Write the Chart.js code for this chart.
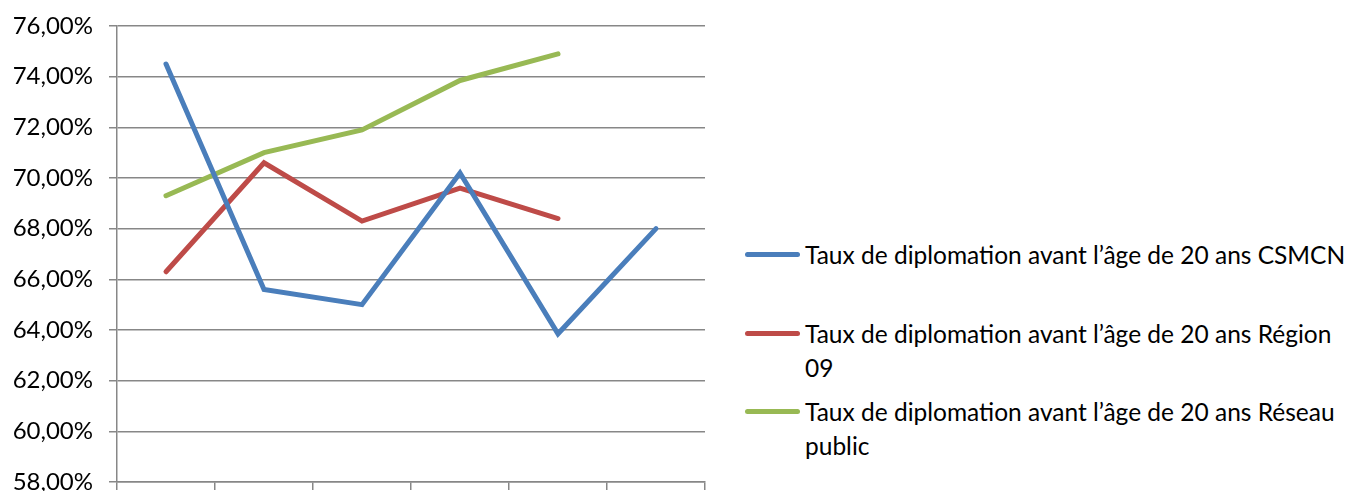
<!DOCTYPE html>
<html>
<head>
<meta charset="utf-8">
<script src="https://cdn.jsdelivr.net/npm/chart.js@4"></script>
<style>
  body { margin: 0; background: #fff; font-family: Lato, "Open Sans", sans-serif; }
  #wrap { position: relative; width: 1347px; height: 491px; overflow: hidden; }
  #box { position: absolute; left: 0; top: 0; width: 712px; height: 491px; }
  #legend { position: absolute; left: 745px; top: 0; width: 602px; }
  .item { position: absolute; left: 0; display: flex; align-items: flex-start; }
  .swatch { width: 55px; height: 5px; border-radius: 3px; margin-top: 14px; flex: none; }
  .label { margin-left: 5px; width: 542px; font-size: 24.5px; line-height: 34px; color: #000; }
</style>
</head>
<body>
<div id="wrap">
  <div id="box"><canvas id="chart"></canvas></div>
  <div id="legend"></div>
</div>
<script>
const categories = ["1", "2", "3", "4", "5", "6"];
const seriesNames = [
    "Taux de diplomation avant l\u2019âge de 20 ans CSMCN",
    "Taux de diplomation avant l\u2019âge de 20 ans Région 09",
    "Taux de diplomation avant l\u2019âge de 20 ans Réseau public"
];
const csmcn = [74.5, 65.6, 65.0, 70.2, 63.85, 68.0];
const region09 = [66.3, 70.6, 68.3, 69.6, 68.4, null];
const reseau = [69.3, 71.0, 71.9, 73.85, 74.9, null];
const yTicks = [58, 60, 62, 64, 66, 68, 70, 72, 74, 76];
const colors = ["#4A7EBB", "#BE4B48", "#98B954"];
const legendTops = [238, 317, 395];

const gridColor = "#878787";

function makeSet(label, data, color) {
    return {
        label: label,
        data: data,
        borderColor: color,
        backgroundColor: color,
        borderWidth: 5,
        pointRadius: 0,
        pointHoverRadius: 0,
        tension: 0,
        borderCapStyle: "round",
        borderJoinStyle: "miter",
        spanGaps: false
    };
}

const canvasEl = document.getElementById("chart");
const myChart = new Chart(canvasEl, {
    type: "line",
    data: {
        labels: categories,
        datasets: [
            makeSet(seriesNames[0], csmcn, colors[0]),
            makeSet(seriesNames[1], region09, colors[1]),
            makeSet(seriesNames[2], reseau, colors[2])
        ]
    },
    options: {
        responsive: true,
        maintainAspectRatio: false,
        animation: false,
        layout: { padding: { top: 26, right: 7, left: 0, bottom: 0 } },
        plugins: {
            legend: { display: false },
            tooltip: { enabled: false }
        },
        scales: {
            x: {
                offset: true,
                afterFit: (scale) => {
                    scale.height = 9;
                    scale.paddingLeft = 0;
                    scale.paddingRight = 0;
                },
                grid: {
                    offset: true,
                    drawOnChartArea: false,
                    drawTicks: true,
                    tickLength: 8,
                    color: gridColor,
                    lineWidth: 1.5
                },
                border: { color: gridColor, width: 1.5 },
                ticks: { display: false }
            },
            y: {
                min: 58,
                max: 76,
                afterBuildTicks: (scale) => {
                    scale.ticks = yTicks.map(v => ({ value: v }));
                },
                afterFit: (scale) => {
                    scale.width = 117;
                    scale.paddingTop = 0;
                    scale.paddingBottom = 0;
                },
                grid: {
                    color: gridColor,
                    lineWidth: 1.5,
                    tickLength: 8
                },
                border: { color: gridColor, width: 1.5 },
                ticks: {
                    padding: 16,
                    color: "#000",
                    font: { family: "Lato", size: 24 },
                    callback: (v) => v.toFixed(2).replace(".", ",") + "%"
                }
            }
        }
    }
});

const legendEl = document.getElementById("legend");
seriesNames.forEach((name, i) => {
    const item = document.createElement("div");
    item.className = "item";
    item.style.top = legendTops[i] + "px";
    const sw = document.createElement("div");
    sw.className = "swatch";
    sw.style.background = colors[i];
    const lab = document.createElement("div");
    lab.className = "label";
    lab.textContent = name;
    item.appendChild(sw);
    item.appendChild(lab);
    legendEl.appendChild(item);
});
</script>
</body>
</html>
